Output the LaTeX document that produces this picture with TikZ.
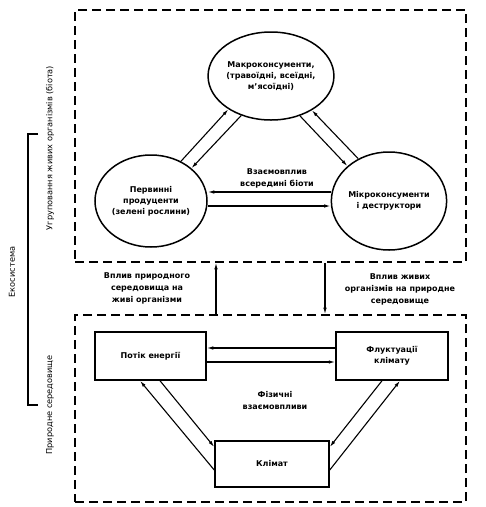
\documentclass[tikz,border=0pt]{standalone}
\usepackage{fontspec}
\setmainfont{DejaVu Sans}
\usetikzlibrary{shapes.geometric,arrows.meta,calc}
\tikzset{
  every picture/.style={x=1pt,y=-1pt},
  dashbox/.style={draw,line width=1.6pt,dash pattern=on 9pt off 5pt,rectangle,inner sep=0pt},
  oval/.style={draw,line width=1.5pt,ellipse,inner sep=0pt,align=center,font=\fontsize{8}{11}\selectfont\bfseries},
  sbox/.style={draw,line width=1.5pt,rectangle,inner sep=0pt,align=center,font=\fontsize{8}{11}\selectfont\bfseries},
  lbl/.style={align=center,inner sep=0pt,font=\fontsize{8}{12}\selectfont\bfseries},
  vlbl/.style={rotate=90,inner sep=0pt,font=\fontsize{8.2}{9}\selectfont},
  arr/.style={line width=1.1pt,-{Latex[length=6.5pt,width=3.5pt]}},
}
\begin{document}
\begin{tikzpicture}
\useasboundingbox (0,0) rectangle (486,507);
% dashed frames
\node[dashbox,minimum width=391pt,minimum height=252pt] (biota) at (270.5,136) {};
\node[dashbox,minimum width=391pt,minimum height=187pt] (env) at (270.5,408.5) {};
% circles
\node[oval,minimum width=98pt,minimum height=88pt] (macro) at (271,76) {Макроконсументи,\\(травоїдні, всеїдні,\\м'ясоїдні)};
\node[oval,minimum width=112pt,minimum height=92pt] (prod) at (151,201) {Первинні\\продуценти\\(зелені рослини)};
\node[oval,minimum width=102pt,minimum height=98pt] (micro) at (389,201) {Мікроконсументи\\і деструктори};
\node[lbl] (inter) at (277,178) {Взаємовплив\\всередині біоти};
% circle connectors
\draw[arr] (prod.53.1) -- (macro.218.8);
\draw[arr] (macro.233.6) -- (prod.39.3);
\draw[arr] (macro.306) -- (micro.140.3);
\draw[arr] (micro.126.5) -- (macro.320.8);
\draw[arr] ([yshift=9pt]micro.west) -- ([yshift=9pt]prod.east);
\draw[arr] ([yshift=-5pt]prod.east) -- ([yshift=-5pt]micro.west);
% boxes
\node[sbox,minimum width=111pt,minimum height=48pt] (potik) at (150.5,356) {Потік енергії};
\node[sbox,minimum width=112pt,minimum height=48pt] (fluct) at (392,356) {Флуктуації\\клімату};
\node[sbox,minimum width=114pt,minimum height=46pt] (klimat) at (272,464) {Клімат};
\node[lbl] (phys) at (275,401) {Фізичні\\взаємовпливи};
\draw[arr] ([yshift=8pt]fluct.west) -- ([yshift=8pt]potik.east);
\draw[arr] ([yshift=-6pt]potik.east) -- ([yshift=-6pt]fluct.west);
\draw[arr] ([xshift=9.5pt]potik.south) -- ([yshift=17pt]klimat.west);
\draw[arr] ([yshift=-6pt]klimat.west) -- ([xshift=-10.5pt]potik.south);
\draw[arr] ([xshift=-10pt]fluct.south) -- ([yshift=17pt]klimat.east);
\draw[arr] ([yshift=-6pt]klimat.east) -- ([xshift=8pt]fluct.south);
% between frames
\draw[arr] ([xshift=-54.5pt]env.north) -- ([xshift=-54.5pt]biota.south);
\draw[arr] ([xshift=54.5pt]biota.south) -- ([xshift=54.5pt]env.north);
\node[lbl] (inf1) at (147,288) {Вплив природного\\середовища на\\живі організми};
\node[lbl] (inf2) at (400,289) {Вплив живих\\організмів на природне\\середовище};
% side labels
\node[vlbl] (lb1) at (50,148) {Угруповання живих організмів (біота)};
\node[vlbl] (lb2) at (50,405) {Природне середовище};
\node[vlbl] (lb3) at (12,272) {Екосистема};
\draw[line width=1.3pt] (38,134) -- (28,134) -- (28,405) -- (38,405);
\end{tikzpicture}
\end{document}
